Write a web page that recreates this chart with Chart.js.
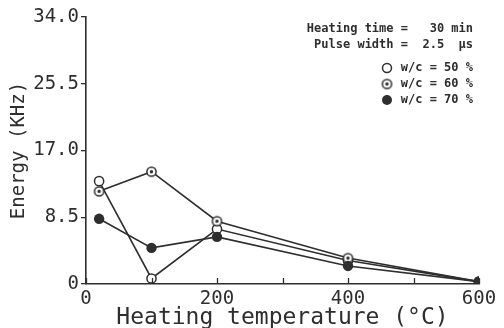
<!DOCTYPE html>
<html>
<head>
<meta charset="utf-8">
<script src="https://cdn.jsdelivr.net/npm/chart.js@4.4.1/dist/chart.umd.min.js"></script>
<style>
  html, body { margin: 0; padding: 0; background: #fff; }
  #wrap { width: 504px; height: 328px; }
</style>
</head>
<body>
<div id="wrap"><canvas id="c" width="504" height="328"></canvas></div>
<script>
// Heating temperature (°C) at which each specimen was measured
const temperatures = [20, 100, 200, 400, 600];
// Energy (KHz) for each water/cement ratio
const energyWc50 = [13.1, 0.7, 7.0, 3.0, 0.3];
const energyWc60 = [11.8, 14.3, 8.0, 3.3, 0.3];
const energyWc70 = [8.3, 4.6, 6.0, 2.3, 0.3];
const seriesLabels = ['w/c = 50 %', 'w/c = 60 %', 'w/c = 70 %'];
const conditionLines = ['Heating time =   30 min', 'Pulse width =  2.5  \u03bcs'];
const yTickValues = [0, 8.5, 17, 25.5, 34];
const xLabelValues = [0, 200, 400, 600];

const INK = '#2e2e2e';
const MONO = "'DejaVu Sans Mono', 'Liberation Mono', monospace";

// Circle with a centre dot, used for the w/c = 60 % series
function dottedCircle(r, dotR, lw) {
  const size = Math.ceil(2 * r + lw + 2);
  const cv = document.createElement('canvas');
  cv.width = size; cv.height = size;
  const g = cv.getContext('2d');
  const c = size / 2;
  g.beginPath(); g.arc(c, c, r, 0, Math.PI * 2);
  g.fillStyle = '#fff'; g.fill();
  g.lineWidth = lw; g.strokeStyle = INK; g.stroke();
  g.beginPath(); g.arc(c, c, dotR, 0, Math.PI * 2);
  g.fillStyle = INK; g.fill();
  return cv;
}
const dotMarker = dottedCircle(4.6, 1.7, 1.5);

function toPoints(ys) { return temperatures.map((t, i) => ({ x: t, y: ys[i] })); }

// Inward tick marks on the temperature axis
const innerTicks = {
  id: 'innerTicks',
  afterDraw(chart) {
    const xs = chart.scales.x;
    const ctx = chart.ctx;
    const bottom = chart.chartArea.bottom;
    ctx.save();
    ctx.strokeStyle = INK;
    ctx.lineWidth = 1.3;
    xs.ticks.forEach(t => {
      const px = Math.round(xs.getPixelForValue(t.value)) + 0.5;
      ctx.beginPath();
      ctx.moveTo(px, bottom);
      ctx.lineTo(px, bottom - 6);
      ctx.stroke();
    });
    ctx.restore();
  }
};

// Test conditions and series key in the upper right corner
const keyBox = {
  id: 'keyBox',
  afterDraw(chart) {
    const ctx = chart.ctx;
    const area = chart.chartArea;
    const right = area.right - 6;
    const top = area.top;
    ctx.save();
    ctx.font = 'bold 12px ' + MONO;
    ctx.fillStyle = INK;
    ctx.textAlign = 'right';
    ctx.textBaseline = 'middle';
    ctx.fillText(conditionLines[0], right, top + 12);
    ctx.fillText(conditionLines[1], right, top + 28);
    const rows = [top + 51, top + 67, top + 83];
    const mx = right - 86;
    seriesLabels.forEach((lab, i) => {
      ctx.textAlign = 'right';
      ctx.fillStyle = INK;
      ctx.fillText(lab, right, rows[i]);
      if (i === 0) {
        ctx.beginPath(); ctx.arc(mx, rows[i], 4.5, 0, Math.PI * 2);
        ctx.fillStyle = '#fff'; ctx.fill();
        ctx.lineWidth = 1.5; ctx.strokeStyle = INK; ctx.stroke();
      } else if (i === 1) {
        ctx.drawImage(dotMarker, mx - dotMarker.width / 2, rows[i] - dotMarker.height / 2);
      } else {
        ctx.beginPath(); ctx.arc(mx, rows[i], 5, 0, Math.PI * 2);
        ctx.fillStyle = INK; ctx.fill();
      }
    });
    ctx.restore();
  }
};

const lineStyle = { borderColor: INK, borderWidth: 1.6, tension: 0, showLine: true };

new Chart(document.getElementById('c'), {
  type: 'scatter',
  data: {
    datasets: [
      Object.assign({
        label: seriesLabels[2], data: toPoints(energyWc70), order: 1,
        pointStyle: 'circle', pointRadius: 5.2, pointBackgroundColor: INK,
        pointBorderColor: INK, pointBorderWidth: 0
      }, lineStyle),
      Object.assign({
        label: seriesLabels[1], data: toPoints(energyWc60), order: 2,
        pointStyle: dotMarker
      }, lineStyle),
      Object.assign({
        label: seriesLabels[0], data: toPoints(energyWc50), order: 3,
        pointStyle: 'circle', pointRadius: 4.6, pointBackgroundColor: '#fff',
        pointBorderColor: INK, pointBorderWidth: 1.5
      }, lineStyle)
    ]
  },
  options: {
    responsive: false,
    animation: false,
    devicePixelRatio: 1,
    layout: { padding: { left: 8, right: 25, top: 17, bottom: 0 } },
    plugins: { legend: { display: false }, tooltip: { enabled: false } },
    scales: {
      x: {
        type: 'linear', min: 0, max: 600,
        afterFit(s) { s.height = 44; },
        ticks: {
          stepSize: 100, padding: 4, color: INK, maxRotation: 0,
          font: { family: MONO, size: 19 },
          callback: v => xLabelValues.includes(v) ? String(v) : ''
        },
        grid: { display: true, drawOnChartArea: false, drawTicks: false },
        border: { display: true, color: INK, width: 1.6 },
        title: {
          display: true, text: 'Heating temperature (\u00b0C)', color: INK,
          font: { family: MONO, size: 23, lineHeight: 0.9 }, padding: 0
        }
      },
      y: {
        type: 'linear', min: 0, max: 34,
        afterFit(s) { s.width = 78; },
        afterBuildTicks(s) { s.ticks = yTickValues.map(v => ({ value: v })); },
        ticks: {
          padding: 2, color: INK,
          font: { family: MONO, size: 19 },
          callback: v => v === 0 ? '0' : v.toFixed(1)
        },
        grid: { display: true, drawOnChartArea: false, drawTicks: true, tickLength: 5, color: INK, lineWidth: 1.3 },
        border: { display: true, color: INK, width: 1.6 },
        title: {
          display: true, text: 'Energy (KHz)', color: INK,
          font: { family: MONO, size: 19, lineHeight: 1.2 }, padding: 0
        }
      }
    }
  },
  plugins: [innerTicks, keyBox]
});
</script>
</body>
</html>
